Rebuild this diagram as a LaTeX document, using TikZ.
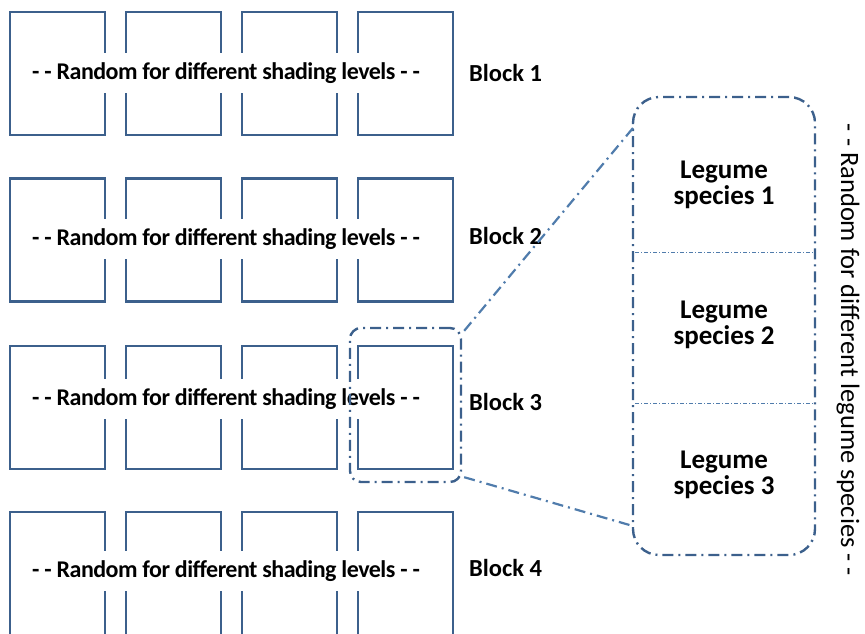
\documentclass[tikz,border=0pt]{standalone}
\usepackage{fontspec}
\setmainfont{Carlito}
\usepackage{tikz}
\definecolor{plotblue}{RGB}{60,96,140}
\definecolor{linkblue}{RGB}{80,124,172}
\tikzstyle{plot} = [draw=plotblue,line width=2.7pt,minimum width=95pt,minimum height=123pt,inner sep=0pt]
\tikzstyle{rowtext} = [fill=white,inner sep=0pt,minimum height=40pt,minimum width=390pt,font=\fontsize{24}{28}\selectfont\bfseries\addfontfeature{LetterSpace=-2.2}]
\tikzstyle{blocklabel} = [anchor=west,inner sep=0pt,font=\fontsize{24.5}{28}\selectfont\bfseries]
\tikzstyle{dashdot} = [draw=plotblue,line width=2.4pt,dash pattern=on 11pt off 5pt on 2pt off 5pt]
\tikzstyle{link} = [draw=linkblue,line width=2.2pt,dash pattern=on 11pt off 5pt on 2pt off 5pt]
\tikzstyle{divider} = [draw=linkblue,line width=0.7pt,dash pattern=on 4pt off 2pt on 1pt off 2pt]
\tikzstyle{species} = [align=center,inner sep=0pt,font=\fontsize{27}{26}\selectfont\bfseries]

\begin{document}
\begin{tikzpicture}[x=1pt,y=-1pt]
\clip (0,0) rectangle (865,634);

% block 1
\node[plot] (p11) at (57.5,73.5) {};
\node[plot] (p12) at (173.5,73.5) {};
\node[plot] (p13) at (289.5,73.5) {};
\node[plot] (p14) at (405.5,73.5) {};
% block 2
\node[plot] (p21) at (57.5,240) {};
\node[plot] (p22) at (173.5,240) {};
\node[plot] (p23) at (289.5,240) {};
\node[plot] (p24) at (405.5,240) {};
% block 3
\node[plot] (p31) at (57.5,407.5) {};
\node[plot] (p32) at (173.5,407.5) {};
\node[plot] (p33) at (289.5,407.5) {};
\node[plot] (p34) at (405.5,407.5) {};
% block 4
\node[plot] (p41) at (57.5,573.5) {};
\node[plot] (p42) at (173.5,573.5) {};
\node[plot] (p43) at (289.5,573.5) {};
\node[plot] (p44) at (405.5,573.5) {};

\node[rowtext] (r1) at (226,73) {- - Random for different shading levels - -};
\node[rowtext] (r2) at (226,239) {- - Random for different shading levels - -};
\node[rowtext] (r3) at (226,399) {- - Random for different shading levels - -};
\node[rowtext] (r4) at (226,571) {- - Random for different shading levels - -};

\node[blocklabel] (b1) at (469,73) {Block 1};
\node[blocklabel] (b2) at (469,236) {Block 2};
\node[blocklabel] (b3) at (469,402) {Block 3};
\node[blocklabel] (b4) at (469,568) {Block 4};

% zoomed plot
\node[dashdot,rounded corners=11pt,minimum width=111pt,minimum height=154pt] (zoombox) at (405.5,405) {};
\node[dashdot,rounded corners=26pt,minimum width=182pt,minimum height=458pt] (mainplot) at (724,326) {};

\coordinate (cut1w) at (635,252);
\coordinate (cut1e) at (813,252);
\coordinate (cut2w) at (635,403);
\coordinate (cut2e) at (813,403);
\draw[divider] (cut1w) -- (cut1e);
\draw[divider] (cut2w) -- (cut2e);

\node[species] (s1) at (724,185) {Legume\\species 1};
\node[species] (s2) at (724,325) {Legume\\species 2};
\node[species] (s3) at (724,475) {Legume\\species 3};

\coordinate (topend) at (633,128);
\coordinate (botend) at (633,526);
\draw[link] ([shift={(2,4)}]zoombox.north east) -- (topend);
\draw[link] ([shift={(2,-6)}]zoombox.south east) -- (botend);

\node[rotate=-90,inner sep=0pt,font=\fontsize{26.5}{28}\selectfont] (sidenote) at (848,350) {- - Random for different legume species - -};

\end{tikzpicture}
\end{document}
